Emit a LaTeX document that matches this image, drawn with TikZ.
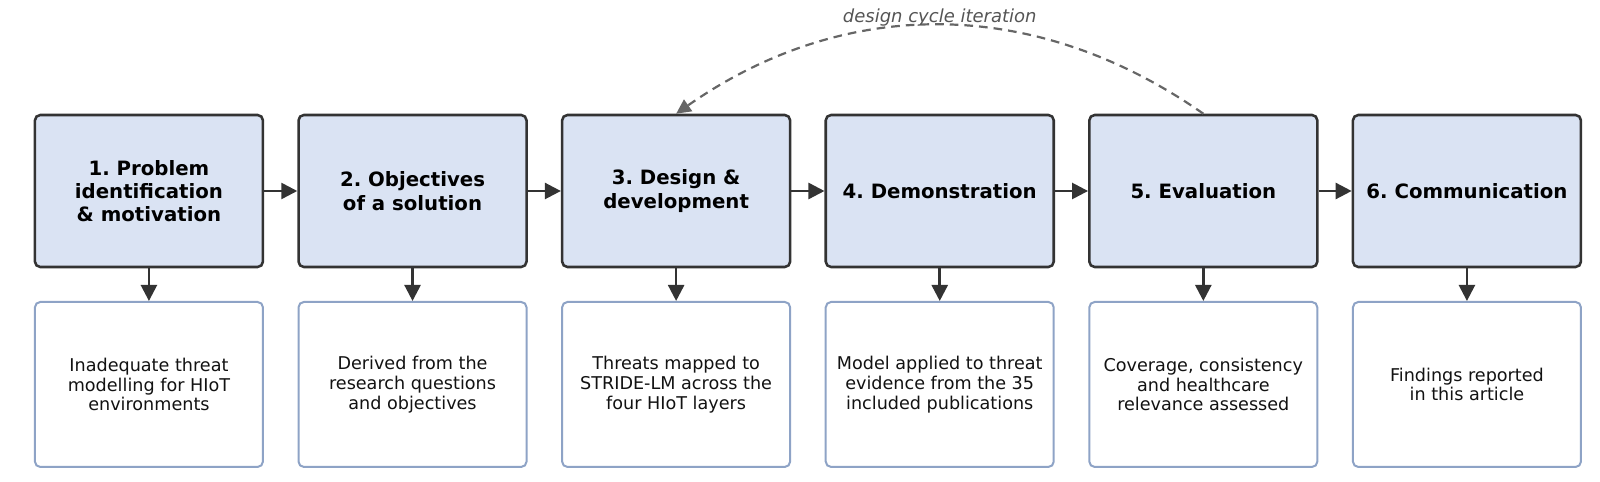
\documentclass[tikz,border=0pt]{standalone}
\usepackage{fontspec}
\setmainfont{DejaVu Sans}
\usetikzlibrary{arrows.meta}
\definecolor{phasefill}{HTML}{DAE3F3}
\definecolor{phaseline}{HTML}{333333}
\definecolor{outline}{HTML}{8EA3C6}
\definecolor{loopgray}{HTML}{666666}
\definecolor{labelgray}{HTML}{555555}
\frenchspacing
\begin{document}
\begin{tikzpicture}[
            phase/.style={rectangle,draw=phaseline,line width=1.9pt,fill=phasefill,rounded corners=4pt,minimum width=171pt,minimum height=114pt,align=center,font=\fontsize{14.8}{17.5}\selectfont\bfseries},
            outcome/.style={rectangle,draw=outline,line width=1.5pt,fill=white,rounded corners=4pt,minimum width=171pt,minimum height=123.75pt,align=center,text=black!93,font=\fontsize{13.2}{14.8}\selectfont},
            flow/.style={-{Triangle[length=12pt,width=12pt]},line width=1.9pt,draw=phaseline},
            node distance=197.7pt
        ]
            \useasboundingbox (0,0) rectangle (1200pt,361.5pt);

            \node[phase] (phase1) at (111.7pt,218.25pt) {1. Problem\\identification\\\& motivation};
            \node[phase,right of=phase1] (phase2) {2. Objectives\\of a solution};
            \node[phase,right of=phase2] (phase3) {3. Design \&\\development};
            \node[phase,right of=phase3] (phase4) {4. Demonstration};
            \node[phase,right of=phase4] (phase5) {5. Evaluation};
            \node[phase,right of=phase5] (phase6) {6. Communication};

            \node[outcome,below of=phase1,node distance=145.1pt] (out1) {Inadequate threat\\modelling for HIoT\\environments};
            \node[outcome,below of=phase2,node distance=145.1pt] (out2) {Derived from the\\research questions\\and objectives};
            \node[outcome,below of=phase3,node distance=145.1pt] (out3) {Threats mapped to\\STRIDE-LM across the\\four HIoT layers};
            \node[outcome,below of=phase4,node distance=145.1pt] (out4) {Model applied to threat\\evidence from the 35\\included publications};
            \node[outcome,below of=phase5,node distance=145.1pt] (out5) {Coverage, consistency\\and healthcare\\relevance assessed};
            \node[outcome,below of=phase6,node distance=145.1pt] (out6) {Findings reported\\in this article};

            \draw[flow] (phase1) -- (phase2);
            \draw[flow] (phase2) -- (phase3);
            \draw[flow] (phase3) -- (phase4);
            \draw[flow] (phase4) -- (phase5);
            \draw[flow] (phase5) -- (phase6);

            \draw[flow] (phase1) -- (out1);
            \draw[flow] (phase2) -- (out2);
            \draw[flow] (phase3) -- (out3);
            \draw[flow] (phase4) -- (out4);
            \draw[flow] (phase5) -- (out5);
            \draw[flow] (phase6) -- (out6);

            % iteration loop back to design
            \draw[-{Triangle[length=11pt,width=10.5pt]},line width=1.65pt,draw=loopgray,dash pattern=on 6.5pt off 4.5pt]
                (phase5.north) to[bend right=35] node[midway,yshift=5.8pt,text=labelgray,font=\fontsize{13.5}{15}\selectfont\itshape] (looplabel) {design cycle iteration} (phase3.north);
        \end{tikzpicture}
\end{document}
